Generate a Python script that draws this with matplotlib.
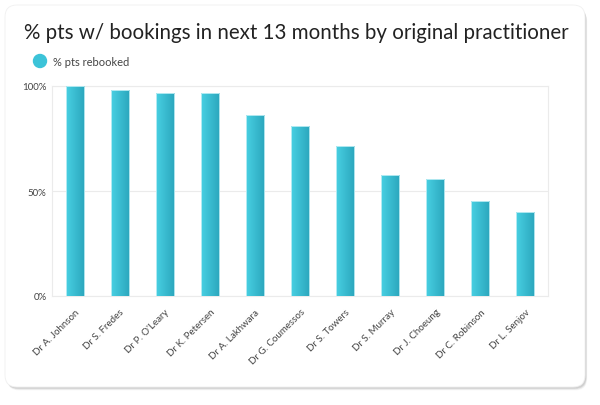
import numpy as np
import matplotlib.pyplot as plt
from matplotlib.patches import FancyBboxPatch
from matplotlib.colors import LinearSegmentedColormap

names = ['Dr A. Johnson', 'Dr S. Fredes', "Dr P. O'Leary", 'Dr K. Petersen', 'Dr A. Lakhwara',
         'Dr G. Coumessos', 'Dr S. Towers', 'Dr S. Murray', 'Dr J. Choeung', 'Dr C. Robinson',
         'Dr L. Senjov']
rebooked = [100, 98, 96.5, 96.5, 86, 81, 71.3, 57.8, 55.6, 45.1, 39.9]

plt.rcParams['font.family'] = ['Lato', 'DejaVu Sans']

fig = plt.figure(figsize=(6, 4.06), dpi=100)
fig.patch.set_facecolor('white')

# card with soft shadow
bg = fig.add_axes([0, 0, 1, 1])
bg.set_xlim(0, 600)
bg.set_ylim(406, 0)
bg.axis('off')
for i, a in enumerate([0.03, 0.04, 0.05, 0.07]):
    d = 4 - i
    bg.add_patch(FancyBboxPatch((6 + d * 0.3, 8 + d * 0.6), 580, 381, boxstyle='round,pad=0,rounding_size=12',
                                fc='black', ec='none', alpha=a))
bg.add_patch(FancyBboxPatch((5, 6), 580, 382, boxstyle='round,pad=0,rounding_size=12',
                            fc='white', ec='#f0f0f0', lw=0.6))

bg.text(24, 33, '% pts w/ bookings in next 13 months by original practitioner', fontsize=14.8,
        color='#222222', va='center', ha='left')
bg.add_patch(plt.Circle((40, 62), 6.5, color='#3cc3d8'))
bg.text(53, 62, '% pts rebooked', fontsize=8, color='#444444', va='center')

ax = fig.add_axes([52 / 600, 1 - 297 / 406, 496 / 600, 210 / 406])
x = np.arange(len(names))

cmap = LinearSegmentedColormap.from_list('g', ['#48d0e2', '#2ba6bd'])
grad = np.linspace(0, 1, 64).reshape(1, -1)
w = 0.4
bars = ax.bar(x, rebooked, width=w, color='none', edgecolor='#c6f0f6', lw=0.6, zorder=4)
for b in bars:
    im = ax.imshow(grad, cmap=cmap, aspect='auto', zorder=3,
                   extent=(b.get_x(), b.get_x() + b.get_width(), 0, b.get_height()))
    im.set_clip_path(b)
ax.set_xlim(-0.5, len(names) - 0.5)
ax.set_ylim(0, 100)

ax.set_yticks([0, 50, 100])
ax.set_yticklabels(['0%', '50%', '100%'])
ax.grid(axis='y', color='#ebebeb', lw=0.8)
ax.set_axisbelow(True)
ax.set_xticks(x)
ax.set_xticklabels(names, rotation=45, ha='right', rotation_mode='anchor')
ax.tick_params(axis='both', length=0, labelsize=7, colors='#444444', pad=4)
ax.tick_params(axis='x', pad=8)
for s in ax.spines.values():
    s.set_color('#ebebeb')
    s.set_linewidth(0.8)
ax.patch.set_alpha(0)

fig.savefig('out.png', dpi=100)
